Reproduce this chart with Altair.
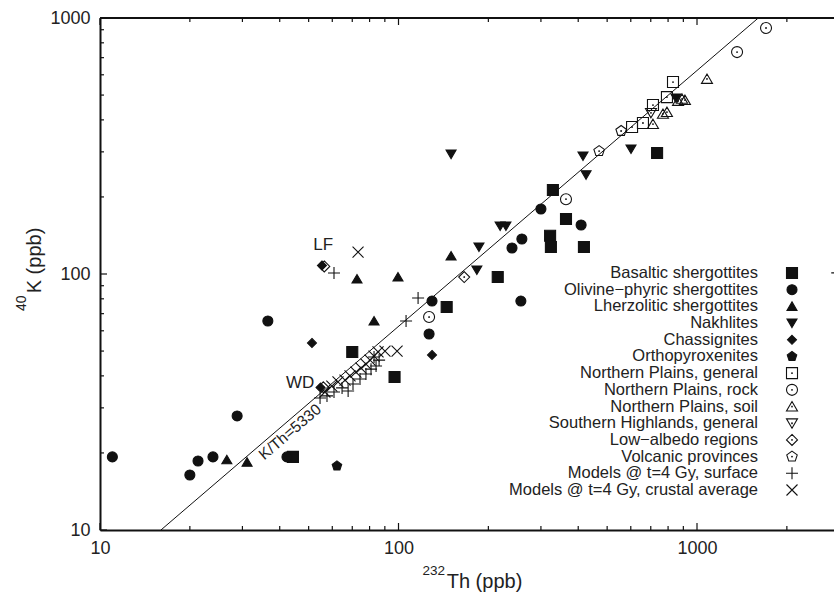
import altair as alt
import pandas as pd

FONT = "Liberation Sans"
INK = "#111111"
TXT = "#222222"

# ---------------- data ----------------
cats = [
    "Basaltic shergottites",
    "Olivine\u2212phyric shergottites",
    "Lherzolitic shergottites",
    "Nakhlites",
    "Chassignites",
    "Orthopyroxenites",
    "Northern Plains, general",
    "Northern Plains, rock",
    "Northern Plains, soil",
    "Southern Highlands, general",
    "Low\u2212albedo regions",
    "Volcanic provinces",
    "Models @ t=4 Gy, surface",
    "Models @ t=4 Gy, crustal average",
]

basaltic_th = [329, 364, 322, 324, 418, 215, 145, 70, 97, 44.3, 735]
basaltic_k = [213, 164, 141, 127.5, 127.5, 97.3, 74.3, 49.6, 39.6, 19.3, 297]
olivine_th = [300, 409, 259, 240, 129.5, 257, 126.6, 36.5, 28.8, 23.9, 21.3, 20.0, 11.0, 42.3]
olivine_k = [179.5, 155.4, 137, 126.4, 78.4, 78.4, 58.3, 65.5, 27.9, 19.3, 18.6, 16.4, 19.3, 19.3]
lherz_th = [150, 72.6, 99.6, 82.8, 26.6, 31.1]
lherz_k = [117.6, 95.6, 97.3, 65.5, 18.8, 18.4]
nakhl_th = [150, 415, 425, 601, 219, 229, 186, 183, 850]
nakhl_k = [294, 289, 244, 308, 154, 154, 127.5, 103.7, 487]
chass_th = [51.3, 129.5, 55.4, 54.8]
chass_k = [53.8, 48.3, 108.0, 36.0]
ortho_th = [62.2]
ortho_k = [17.8]
npgen_th = [831, 793, 712, 659, 606]
npgen_k = [562, 491, 457, 389, 375]
nprock_th = [1703, 1362, 364, 126.6]
nprock_k = [914, 736, 196, 67.9]
npsoil_th = [1080, 891, 864, 911, 793, 769, 712]
npsoil_k = [578, 483, 474, 478, 429, 422, 385]
shgen_th = [701]
shgen_k = [426]
lowalb_th = [166, 56.4, 56.0]
lowalb_k = [97.3, 107.0, 36.1]
volc_th = [470, 557]
volc_k = [302, 362]
msurf_th = [60.8, 116.3, 106, 2950, 54.6, 57.6, 60.8, 64.7, 67.8, 70.4, 74.3, 77.8, 80.9, 84.1, 86.1, 82.8]
msurf_k = [100.9, 80.6, 65.5, 101, 32.8, 33.4, 34.6, 35.9, 34.9, 37.2, 38.9, 40.7, 42.5, 43.7, 46.1, 47.4]
mcrust_th = [73.2, 90.1, 98.9, 56.7, 59.8, 62.7, 66.2, 68.8, 72.0, 74.9, 77.8, 80.3, 82.8, 85.4]
mcrust_k = [121.8, 50.0, 50.0, 34.6, 36.5, 37.9, 38.5, 40.0, 41.4, 42.9, 44.5, 46.1, 47.8, 49.6]

series = [
    (basaltic_th, basaltic_k), (olivine_th, olivine_k), (lherz_th, lherz_k),
    (nakhl_th, nakhl_k), (chass_th, chass_k), (ortho_th, ortho_k),
    (npgen_th, npgen_k), (nprock_th, nprock_k), (npsoil_th, npsoil_k),
    (shgen_th, shgen_k), (lowalb_th, lowalb_k), (volc_th, volc_k),
    (msurf_th, msurf_k), (mcrust_th, mcrust_k),
]

# K/Th = 5330 reference line (end points)
line_th = [16.0, 1604]
line_k = [10, 1000]

# annotations
ann_text = ["LF", "WD"]
ann_th = [55.9, 46.8]
ann_k = [129.8, 37.6]
ratio_label = ["K/Th=5330"]
ratio_th = [43.3]
ratio_k = [24.15]

x_major = [10, 100, 1000]
x_minor = [20, 30, 40, 50, 60, 70, 80, 90, 200, 300, 400, 500, 600, 700, 800, 900, 2000]
y_major = [10, 100, 1000]
y_minor = [20, 30, 40, 50, 60, 70, 80, 90, 200, 300, 400, 500, 600, 700, 800, 900]

# ---------------- styles ----------------
SQ = "M-1,-1H1V1H-1Z"
CI = "M-1,0A1,1 0 1,1 1,0A1,1 0 1,1 -1,0Z"
TU = "M0,-0.9L1,0.8L-1,0.8Z"
TD = "M0,0.9L1,-0.8L-1,-0.8Z"
DI = "M0,-1L1,0L0,1L-1,0Z"
PE = "M0,-1L0.951,-0.309L0.588,0.809L-0.588,0.809L-0.951,-0.309Z"
DOT = "M-0.07,0A0.07,0.07 0 1,1 0.07,0A0.07,0.07 0 1,1 -0.07,0Z"
PL = "M-1,0H1M0,-1V1"
XX = "M-1,-1L1,1M-1,1L1,-1"

shapes = [SQ, CI, TU, TD, DI, PE, SQ + DOT, CI + DOT, TU + DOT, TD + DOT, DI + DOT, PE + DOT, PL, XX]
fills = [INK] * 6 + ["transparent"] * 8
size_of = dict(zip(cats, [121, 100, 100, 100, 81, 100, 121, 121, 121, 121, 121, 121, 144, 121]))

rows = []
for cat, (ths, ks) in zip(cats, series):
    for t, k in zip(ths, ks):
        rows.append({"cat": cat, "th": t, "k": k, "sz": size_of[cat]})
df = pd.DataFrame(rows)

W, H = 734, 512
xscale = alt.Scale(type="log", domain=[10, 2877], nice=False)
yscale = alt.Scale(type="log", domain=[10, 1000], nice=False)

shape_enc = alt.Shape("cat:N", scale=alt.Scale(domain=cats, range=shapes), legend=None)
fill_enc = alt.Fill("cat:N", scale=alt.Scale(domain=cats, range=fills), legend=None)
size_enc = alt.Size("sz:Q", scale=None, legend=None)

xaxis = alt.Axis(values=x_major, format="d", ticks=False, grid=False, domain=True,
                 domainColor=INK, domainWidth=2, labelFont=FONT, labelFontSize=18,
                 labelColor=TXT, labelPadding=9, labelFlush=False,
                 title="Th (ppb)", titleFont=FONT, titleFontSize=20,
                 titleFontWeight="normal", titleColor=TXT,
                 titleX=384, titleY=57, titleAlign="center", titleBaseline="alphabetic")
yaxis = alt.Axis(values=y_major, format="d", ticks=False, grid=False, domain=True,
                 domainColor=INK, domainWidth=2, labelFont=FONT, labelFontSize=18,
                 labelColor=TXT, labelPadding=10, labelFlush=False,
                 title="K (ppb)", titleFont=FONT, titleFontSize=20,
                 titleFontWeight="normal", titleColor=TXT,
                 titleAngle=270, titleX=-60, titleY=242, titleAlign="center",
                 titleBaseline="alphabetic")

X = alt.X("th:Q", scale=xscale, axis=xaxis)
Y = alt.Y("k:Q", scale=yscale, axis=yaxis)

line = alt.Chart(pd.DataFrame({"th": line_th, "k": line_k})).mark_line(
    color=INK, strokeWidth=1, clip=True).encode(x=X, y=Y)

points = alt.Chart(df).mark_point(filled=True, opacity=1, stroke=INK, strokeWidth=1.1).encode(
    x=X, y=Y, shape=shape_enc, fill=fill_enc, size=size_enc,
)

ann = alt.Chart(pd.DataFrame({"t": ann_text, "th": ann_th, "k": ann_k})).mark_text(
    font=FONT, fontSize=17, color=TXT, align="center", baseline="middle").encode(
    x=X, y=Y, text="t:N")

ratio = alt.Chart(pd.DataFrame({"t": ratio_label, "th": ratio_th, "k": ratio_k})).mark_text(
    font=FONT, fontSize=15.5, color=TXT, align="center", baseline="middle", angle=319.4).encode(
    x=X, y=Y, text="t:N")

# superscripts of the axis titles
sup_x = alt.Chart(pd.DataFrame({"t": ["232"]})).mark_text(
    font=FONT, fontSize=13.5, color=TXT, align="right", baseline="alphabetic").encode(
    x=alt.value(345), y=alt.value(557), text="t:N")
sup_y = alt.Chart(pd.DataFrame({"t": ["40"]})).mark_text(
    font=FONT, fontSize=14, color=TXT, align="left", baseline="alphabetic", angle=270).encode(
    x=alt.value(-74), y=alt.value(293), text="t:N")

# frame top line and inward ticks
top_line = alt.Chart(pd.DataFrame({"v": [10]})).mark_rule(color=INK, strokeWidth=2).encode(
    x=alt.value(0), x2=alt.value(W), y=alt.value(0))


def xticks(vals, y0, y1):
    return alt.Chart(pd.DataFrame({"th": vals})).mark_rule(color=INK, strokeWidth=1.2).encode(
        x=X, y=alt.value(y0), y2=alt.value(y1))


def yticks(vals, x0, x1):
    return alt.Chart(pd.DataFrame({"k": vals})).mark_rule(color=INK, strokeWidth=1.2).encode(
        y=Y, x=alt.value(x0), x2=alt.value(x1))


tick_layers = [
    xticks(x_major, H, H - 7), xticks(x_minor, H, H - 4),
    xticks(x_major, 0, 7), xticks(x_minor, 0, 4),
    yticks(y_major, 0, 7), yticks(y_minor, 0, 4),
]

main = alt.layer(line, points, ann, ratio, top_line, *tick_layers, sup_x, sup_y)

# legend drawn as text + symbols (labels right-aligned, symbols to the right)
leg_df = pd.DataFrame({"cat": cats, "i": list(range(len(cats))),
                       "sz": [size_of[c] for c in cats]})
leg_y = alt.Y("i:Q", scale=alt.Scale(domain=[0, len(cats) - 1], range=[255, 472], nice=False, zero=False), axis=None)
leg_text = alt.Chart(leg_df).mark_text(font=FONT, fontSize=16.5, color=TXT, align="right",
                                       baseline="middle").encode(
    x=alt.value(658), y=leg_y, text="cat:N")
leg_pts = alt.Chart(leg_df).mark_point(filled=True, opacity=1, stroke=INK, strokeWidth=1.1).encode(
    x=alt.value(692), y=leg_y, shape=shape_enc, fill=fill_enc, size=size_enc)
legend = alt.layer(leg_text, leg_pts)

chart = alt.layer(main, legend).resolve_scale(y="independent").properties(
    width=W, height=H,
    padding={"left": 100, "top": 18, "right": 0, "bottom": 66},
    autosize=alt.AutoSizeParams(type="none"),
).configure_view(stroke=None).configure(background="white")

chart.save("out.html", embed_options={"renderer": "svg", "actions": False})
